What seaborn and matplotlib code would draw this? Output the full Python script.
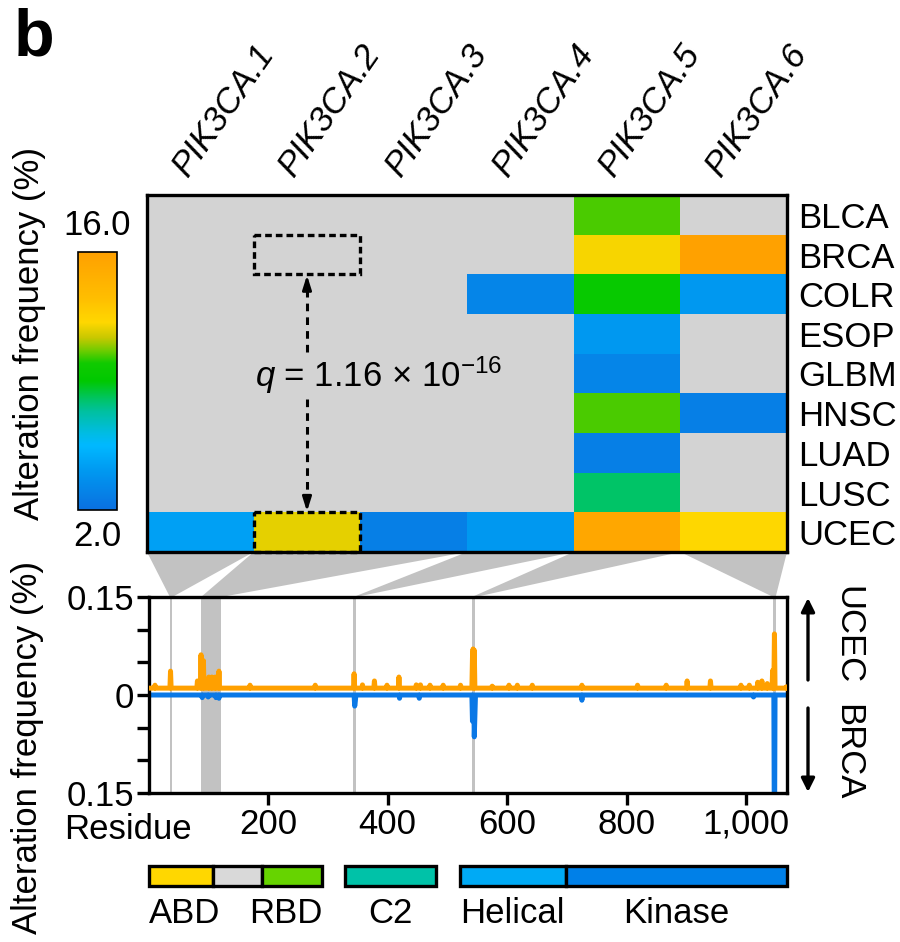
import numpy as np
import pandas as pd
import matplotlib
matplotlib.use("Agg")
import matplotlib.pyplot as plt
import seaborn as sns
from matplotlib.colors import LinearSegmentedColormap
from matplotlib.patches import Polygon, Rectangle, FancyArrowPatch
from matplotlib.ticker import FuncFormatter

sns.set_theme(style="white")
plt.rcParams["font.family"] = ["Liberation Sans", "DejaVu Sans"]
plt.rcParams["mathtext.fontset"] = "custom"
plt.rcParams["mathtext.rm"] = "Liberation Sans"
plt.rcParams["mathtext.it"] = "Liberation Sans:italic"
plt.rcParams["text.color"] = "black"
plt.rcParams["xtick.color"] = "black"
plt.rcParams["ytick.color"] = "black"

# --- heatmap data (alteration frequency, %) ---
clusters = ["PIK3CA.1", "PIK3CA.2", "PIK3CA.3", "PIK3CA.4", "PIK3CA.5", "PIK3CA.6"]
tumors = ["BLCA", "BRCA", "COLR", "ESOP", "GLBM", "HNSC", "LUAD", "LUSC", "UCEC"]
nan = np.nan
pik3ca_1 = [nan, nan, nan, nan, nan, nan, nan, nan, 4.5]
pik3ca_2 = [nan, nan, nan, nan, nan, nan, nan, nan, 11.8]
pik3ca_3 = [nan, nan, nan, nan, nan, nan, nan, nan, 2.8]
pik3ca_4 = [nan, nan, 3.1, nan, nan, nan, nan, nan, 4.1]
pik3ca_5 = [10.4, 12.1, 9.4, 4.1, 3.1, 10.4, 2.8, 8.0, 15.4]
pik3ca_6 = [nan, 15.9, 4.1, nan, nan, 2.8, nan, nan, 12.2]

# residue range of every cluster
cluster_start = [38, 90, 90, 345, 543, 1047]
cluster_end = [38, 120, 120, 345, 545, 1047]

# --- residue-level alteration frequency (%) ---
protein_length = 1068
ucec_res = [11, 37, 82, 88, 92, 101, 106, 112, 118, 170, 279, 344, 358, 378, 399,
            419, 448, 455, 471, 493, 522, 542, 543, 545, 575, 603, 617, 642, 725,
            818, 866, 901, 940, 991, 1005, 1019, 1026, 1035, 1044, 1047, 1067]
ucec_freq = [0.0045, 0.026, 0.011, 0.051, 0.042, 0.017, 0.017, 0.017, 0.026, 0.0045,
             0.0045, 0.022, 0.005, 0.011, 0.0045, 0.017, 0.005, 0.005, 0.0045, 0.0045,
             0.0045, 0.047, 0.060, 0.058, 0.003, 0.0045, 0.0045, 0.0045, 0.0045,
             0.0045, 0.0045, 0.011, 0.011, 0.0045, 0.0045, 0.009, 0.011, 0.007,
             0.027, 0.083, 0.002]
brca_res = [90, 100, 113, 118, 345, 346, 420, 453, 542, 545, 546, 725, 1012, 1047]
brca_freq = [0.004, 0.003, 0.004, 0.005, 0.017, 0.010, 0.005, 0.005, 0.040, 0.064,
             0.030, 0.008, 0.003, 0.25]

# --- protein domains ---
domain_names = ["ABD", "", "RBD", "C2", "Helical", "Kinase"]
domain_start = [1, 108, 190, 328, 521, 698]
domain_end = [108, 190, 291, 481, 698, 1068]
domain_colors = ["#ffd700", "#d9d9d9", "#66d400", "#00c2a8", "#00aaf5", "#0080e8"]
label_align = ["left", "", "right", "center", "left", "center"]

cmap = LinearSegmentedColormap.from_list("alt", [
    (0.00, "#0a70e0"), (0.15, "#0098f0"), (0.25, "#00b8ff"), (0.30, "#00bce0"),
    (0.38, "#00c0a0"), (0.43, "#00c464"), (0.50, "#00c800"), (0.57, "#10ca00"),
    (0.62, "#70cc00"), (0.67, "#c8c800"), (0.73, "#ffd700"), (0.82, "#ffbe00"),
    (1.00, "#ffa000")])

orange = "#ffa000"
blue = "#0a78e6"
hl_grey = "#c2c2c2"
fs = 25

W, H = 900, 942
fig = plt.figure(figsize=(W / 100, H / 100), dpi=100)


def box(x0, y0, x1, y1):
    return [x0 / W, 1 - y1 / H, (x1 - x0) / W, (y1 - y0) / H]


ax_hm = fig.add_axes(box(147, 195, 787, 552))
cax = fig.add_axes(box(78, 252, 117, 510))
ax_b = fig.add_axes(box(149, 597, 787, 793))
ax_d = fig.add_axes(box(149, 866, 787, 886), sharex=ax_b)

# heatmap
df = pd.DataFrame({c: v for c, v in zip(clusters, [pik3ca_1, pik3ca_2, pik3ca_3,
                                                    pik3ca_4, pik3ca_5, pik3ca_6])},
                  index=tumors)
ax_hm.set_facecolor("#d3d3d3")
sns.heatmap(df, cmap=cmap, vmin=2, vmax=16, ax=ax_hm, cbar_ax=cax,
            xticklabels=False, yticklabels=tumors, linewidths=0)
for s in ax_hm.spines.values():
    s.set_visible(True)
    s.set_color("black")
    s.set_linewidth(2.4)
ax_hm.set_ylabel("")
ax_hm.set_xlabel("")
ax_hm.yaxis.tick_right()
ax_hm.tick_params(axis="y", length=0, pad=8, labelsize=fs, labelrotation=0)
n_rows = len(tumors)
for i, name in enumerate(clusters):
    ax_hm.text(i + 0.38, -0.42, name, rotation=55, rotation_mode="anchor",
               ha="left", va="baseline", fontsize=fs, style="italic")

# dashed boxes and q annotation
for row in (1, 8):
    ax_hm.add_patch(Rectangle((1, row), 1, 1, fill=False, ec="black", lw=2.4,
                              ls=(0, (2, 1.2)), zorder=5, clip_on=False))
ax_hm.plot([1.5, 1.5], [3.95, 2.25], color="black", lw=2.2, ls=(0, (2.5, 2)))
ax_hm.plot([1.5, 1.5], [5.15, 7.75], color="black", lw=2.2, ls=(0, (2.5, 2)))
ax_hm.annotate("", xy=(1.5, 2.02), xytext=(1.5, 2.4),
               arrowprops=dict(arrowstyle="-|>,head_length=0.7,head_width=0.22",
                               color="black", lw=2, shrinkA=0, shrinkB=0))
ax_hm.annotate("", xy=(1.5, 7.98), xytext=(1.5, 7.6),
               arrowprops=dict(arrowstyle="-|>,head_length=0.7,head_width=0.22",
                               color="black", lw=2, shrinkA=0, shrinkB=0))
ax_hm.text(2.17, 4.55, r"$q$ = 1.16 × 10$^{\mathregular{−16}}$", ha="center",
           va="center", fontsize=fs)

# colorbar
cax.set_yticks([])
cax.set_xticks([])
cbar = ax_hm.collections[0].colorbar
cbar.outline.set_edgecolor("black")
cbar.outline.set_linewidth(1.2)
cax.text(0.5, 1.04, "16.0", transform=cax.transAxes, ha="center", va="bottom", fontsize=fs)
cax.text(0.5, -0.04, "2.0", transform=cax.transAxes, ha="center", va="top", fontsize=fs)

# residue profile
residues = np.arange(1, protein_length + 1)
ucec_lift = 0.0105
ucec_line = np.zeros(protein_length)
ucec_line[np.array(ucec_res) - 1] = ucec_freq
brca_line = np.zeros(protein_length)
brca_line[np.array(brca_res) - 1] = brca_freq
prof = pd.DataFrame({"residue": residues, "UCEC": ucec_line + ucec_lift,
                     "BRCA": -brca_line})
pad = 2
for a, b in zip(cluster_start, cluster_end):
    ax_b.axvspan(a - pad, b + pad, color=hl_grey, lw=0, zorder=0)
sns.lineplot(data=prof, x="residue", y="BRCA", ax=ax_b, color=blue, lw=3.6,
             estimator=None, zorder=2)
sns.lineplot(data=prof, x="residue", y="UCEC", ax=ax_b, color=orange, lw=3.6,
             estimator=None, zorder=3)
ax_b.set_xlim(1, protein_length)
ax_b.set_ylim(-0.15, 0.15)
ax_b.set_xlabel("")
ax_b.set_ylabel("")
ax_b.set_yticks([-0.15, -0.1, -0.05, 0, 0.05, 0.1, 0.15])
ax_b.set_yticklabels(["0.15", "", "", "0", "", "", "0.15"])
ax_b.set_xticks([200, 400, 600, 800, 1000])
ax_b.xaxis.set_major_formatter(FuncFormatter(lambda v, p: f"{int(v):,}"))
for s in ax_b.spines.values():
    s.set_visible(True)
    s.set_color("black")
    s.set_linewidth(2.4)
ax_b.tick_params(direction="out", length=8.5, width=2.4, labelsize=fs, pad=2,
                 left=True, bottom=True, colors="black")
ax_b.text(0.067, -0.1, "Residue", transform=ax_b.transAxes, ha="right", va="top",
          fontsize=fs)

# connectors between heatmap columns and residues
inv = fig.transFigure.inverted()
for i, (a, b) in enumerate(zip(cluster_start, cluster_end)):
    pts = [ax_hm.transData.transform((i, n_rows)),
           ax_hm.transData.transform((i + 1, n_rows)),
           ax_b.transData.transform((b + pad, 0.15)),
           ax_b.transData.transform((a - pad, 0.15))]
    fig.add_artist(Polygon(inv.transform(pts), closed=True, fc=hl_grey, ec="none",
                           transform=fig.transFigure, zorder=-1))

# right-side direction labels
fig.text(848 / W, 1 - 635 / H, "UCEC", rotation=270, ha="center", va="center", fontsize=fs)
fig.text(848 / W, 1 - 752 / H, "BRCA", rotation=270, ha="center", va="center", fontsize=fs)
for y0, y1 in ((680, 598), (708, 792)):
    fig.add_artist(FancyArrowPatch((808 / W, 1 - y0 / H), (808 / W, 1 - y1 / H),
                                   transform=fig.transFigure,
                                   arrowstyle="-|>,head_length=8,head_width=4",
                                   color="black", lw=2.4, shrinkA=0, shrinkB=0))

# domain bars
for n, a, b, c in zip(domain_names, domain_start, domain_end, domain_colors):
    ax_d.add_patch(Rectangle((a, 0), b - a, 1, fc=c, ec="black", lw=2.4, clip_on=False))
ax_d.set_ylim(0, 1)
ax_d.axis("off")
for n, a, b, al in zip(domain_names, domain_start, domain_end, label_align):
    if not n:
        continue
    x = {"left": a, "right": b, "center": (a + b) / 2}[al]
    ax_d.text(x, -0.55, n, ha=al, va="top", fontsize=fs)

# axis labels and panel letter
fig.text(30 / W, 1 - 333 / H, "Alteration frequency (%)", rotation=90, ha="center",
         va="center", fontsize=fs)
fig.text(28 / W, 1 - 748 / H, "Alteration frequency (%)", rotation=90, ha="center",
         va="center", fontsize=fs)
fig.text(14 / W, 1 - 8 / H, "b", ha="left", va="top", fontsize=48, fontweight="bold")

fig.savefig("out.png", dpi=100)
